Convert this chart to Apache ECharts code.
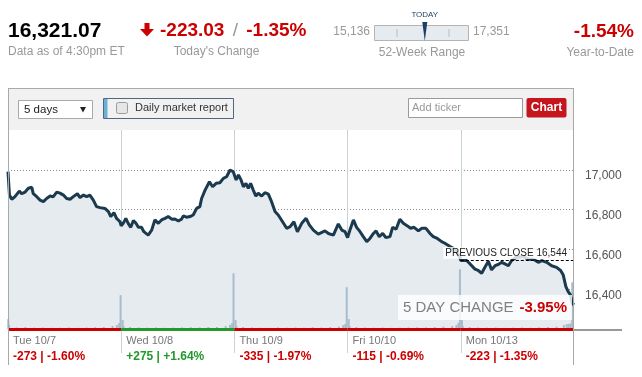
<!DOCTYPE html>
<html>
<head>
<meta charset="utf-8">
<script src="https://cdn.jsdelivr.net/npm/echarts@6/dist/echarts.min.js"></script>
<style>
html, body { margin: 0; padding: 0; background: #fff; }
#chart { width: 642px; height: 377px; }
</style>
</head>
<body>
<div id="chart"></div>
<script>
// trading minutes from Tue open (390 per session)
var minutes = [
    0, 5, 13, 24, 39, 47, 59, 70, 82, 87, 99, 110, 122, 133, 145, 156, 168, 179, 191, 202, 214, 225, 239, 248, 260, 271, 282, 294, 305, 317, 334, 346, 354, 365, 374, 386, 390,
    397, 406, 414, 423, 432, 441, 449, 460, 468, 483, 495, 506, 518, 529, 541, 552, 564, 575, 587, 598, 604, 615, 627, 638, 650, 661, 667, 679, 694, 705, 717, 730, 742, 753, 765, 776, 780,
    786, 794, 802, 811, 820, 828, 836, 845, 854, 862, 874, 885, 897, 908, 920, 931, 946, 960, 972, 985, 997, 1012, 1027, 1038, 1052, 1069, 1075, 1092, 1104, 1121, 1138, 1150, 1161, 1170,
    1178, 1190, 1201, 1213, 1224, 1236, 1247, 1259, 1268, 1279, 1291, 1302, 1316, 1325, 1337, 1350, 1362, 1376, 1387, 1399, 1414, 1425, 1440, 1454, 1465, 1479, 1494, 1505, 1523, 1534, 1546, 1555, 1560,
    1563, 1580, 1592, 1609, 1620, 1632, 1643, 1655, 1666, 1678, 1689, 1701, 1712, 1724, 1735, 1752, 1775, 1793, 1810, 1827, 1839, 1856, 1873, 1890, 1904, 1913, 1922, 1930, 1938, 1944, 1950
];
var prices = [
    16991, 16873, 16852, 16865, 16893, 16880, 16888, 16907, 16912, 16880, 16865, 16848, 16840, 16856, 16868, 16865, 16888, 16883, 16873, 16856, 16852, 16865, 16880, 16860, 16873, 16865, 16873, 16848, 16815, 16810, 16806, 16790, 16765, 16785, 16756, 16739, 16719,
    16731, 16756, 16731, 16711, 16745, 16731, 16711, 16711, 16689, 16672, 16697, 16748, 16731, 16748, 16756, 16765, 16752, 16753, 16743, 16752, 16768, 16762, 16765, 16773, 16806, 16815, 16856, 16898, 16940, 16915, 16932, 16935, 16957, 16965, 16999, 16990, 16994,
    16949, 16974, 16952, 16915, 16932, 16907, 16932, 16898, 16868, 16882, 16868, 16885, 16878, 16840, 16790, 16773, 16739, 16706, 16714, 16739, 16689, 16731, 16756, 16723, 16697, 16677, 16680, 16693, 16680, 16672, 16728, 16697, 16689, 16659,
    16697, 16748, 16711, 16689, 16664, 16639, 16655, 16680, 16693, 16664, 16680, 16659, 16664, 16711, 16701, 16751, 16731, 16718, 16706, 16711, 16693, 16706, 16706, 16680, 16664, 16655, 16639, 16631, 16614, 16605, 16590, 16565, 16544,
    16551, 16544, 16527, 16501, 16494, 16480, 16510, 16540, 16497, 16518, 16524, 16535, 16527, 16518, 16544, 16560, 16564, 16551, 16551, 16535, 16544, 16535, 16518, 16510, 16494, 16471, 16413, 16388, 16371, 16329, 16321
];
var volMinutes = [
    1, 4, 30, 60, 90, 120, 150, 180, 210, 240, 270, 300, 330, 360, 375, 383, 388,
    395, 398, 420, 450, 480, 510, 540, 570, 600, 630, 660, 690, 720, 750, 765, 772, 777,
    784, 787, 810, 840, 870, 900, 930, 960, 990, 1020, 1050, 1080, 1110, 1140, 1155, 1162, 1167,
    1174, 1177, 1200, 1230, 1260, 1290, 1320, 1350, 1380, 1410, 1440, 1470, 1500, 1530, 1545, 1552, 1557,
    1564, 1567, 1590, 1620, 1650, 1680, 1710, 1740, 1770, 1800, 1830, 1860, 1890, 1915, 1925, 1932, 1938, 1944
];
var volumes = [
    5, 2, 0.8, 1, 0.7, 0.8, 0.6, 0.7, 0.8, 0.6, 0.8, 0.9, 1, 1.5, 2, 3, 17,
    4.5, 1.5, 1, 0.8, 0.7, 0.8, 0.6, 0.7, 0.8, 0.9, 0.8, 1, 1, 1.5, 2, 3, 28,
    4.5, 1.5, 1, 0.8, 0.7, 0.6, 0.8, 0.7, 0.8, 0.7, 0.9, 0.8, 1, 1.2, 2, 2.5, 21,
    5, 1.5, 1, 0.8, 0.7, 0.8, 0.6, 0.7, 0.8, 0.9, 0.8, 1, 1.2, 1.5, 2, 3, 30,
    4.5, 1.5, 1, 0.8, 0.7, 0.8, 0.6, 0.7, 0.8, 0.7, 0.9, 1, 1.2, 2, 2.5, 2.5, 2.8, 23.5
];
var dayNames = ['Tue 10/7', 'Wed 10/8', 'Thu 10/9', 'Fri 10/10', 'Mon 10/13'];
var dayChange = [-273, 275, -335, -115, -223];
var dayPct = [-1.60, 1.64, -1.97, -0.69, -1.35];
var yTicks = [16400, 16600, 16800, 17000];
var prevClose = 16544;
var lastPrice = 16321.07, todayChange = -223.03, todayPct = -1.35;
var low52 = 15136, high52 = 17351, ytdPct = -1.54, fiveDayPct = -3.95;

var RED = '#cc0000', GREEN = '#22992a', FONT = '"Liberation Sans", Arial, sans-serif';
var DAY = 390;

function signed(v, d) {
    return (v >= 0 ? '+' : '') + v.toFixed(d);
}
function num(v) {
    return v.toLocaleString('en-US');
}

var pricePairs = minutes.map(function (m, i) { return [m, prices[i]]; });
var volPairs = volMinutes.map(function (m, i) { return [m, volumes[i]]; });
var dayStarts = dayNames.map(function (d, i) { return i * DAY; });

var dayLines = dayChange.map(function (c, i) {
    return [
        { coord: [i * DAY, 16200], lineStyle: { color: c >= 0 ? GREEN : RED, width: 3, type: 'solid' } },
        { coord: [(i + 1) * DAY, 16200] }
    ];
});
dayLines.push([
    { coord: [4 * DAY, prevClose], lineStyle: { color: '#000', width: 1, type: [3, 2] } },
    { coord: [5 * DAY, prevClose] }
]);

var myChart = echarts.init(document.getElementById('chart'));
var option = {
    animation: false,
    textStyle: { fontFamily: FONT },
    grid: { left: 8, top: 130, width: 566, height: 199 },
    xAxis: {
        type: 'value',
        min: 0,
        max: 5 * DAY,
        interval: DAY,
        axisLine: { show: false },
        axisTick: { show: true, length: 24, customValues: dayStarts.slice(1), lineStyle: { color: '#c9d1d9' } },
        splitLine: { show: true, lineStyle: { color: '#c9d1d9' } },
        axisLabel: {
            customValues: dayStarts,
            align: 'left',
            margin: 4,
            padding: [0, 0, 0, 5],
            formatter: function (v) {
                var i = Math.round(v / DAY);
                if (i >= dayNames.length) return '';
                var c = dayChange[i] >= 0 ? 'g' : 'r';
                return '{d|' + dayNames[i] + '}\n{' + c + '|' + signed(dayChange[i], 0) + ' | ' + signed(dayPct[i], 2) + '%}';
            },
            rich: {
                d: { fontSize: 11, color: '#777', lineHeight: 16, fontFamily: FONT },
                r: { fontSize: 12, fontWeight: 'bold', color: RED, lineHeight: 16, fontFamily: FONT },
                g: { fontSize: 12, fontWeight: 'bold', color: GREEN, lineHeight: 16, fontFamily: FONT }
            }
        }
    },
    yAxis: [{
        type: 'value',
        position: 'right',
        min: 16200,
        max: 17200,
        interval: 200,
        axisLine: { show: false },
        axisTick: { show: false },
        splitLine: { show: true, showMinLine: false, showMaxLine: false, lineStyle: { color: '#8c8c8c', type: [1, 2] } },
        axisLabel: {
            margin: 11,
            verticalAlign: 'top',
            color: '#555',
            fontSize: 12,
            formatter: function (v) { return yTicks.indexOf(v) >= 0 ? num(v) : ''; }
        }
    }, {
        type: 'value',
        min: 0,
        max: 100,
        show: false
    }],
    series: [{
        type: 'line',
        data: pricePairs,
        symbol: 'none',
        silent: true,
        z: 1,
        lineStyle: { width: 0 },
        areaStyle: { color: '#e6ebf0', opacity: 1, origin: 'start' }
    }, {
        type: 'bar',
        yAxisIndex: 1,
        data: volPairs,
        barWidth: 2,
        z: 3,
        silent: true,
        itemStyle: { color: '#a9bccb' }
    }, {
        type: 'line',
        data: pricePairs,
        symbol: 'none',
        clip: false,
        z: 4,
        lineStyle: { color: '#1b3a4e', width: 3 },
        markLine: {
            silent: true,
            symbol: ['none', 'none'],
            label: { show: false },
            data: dayLines
        }
    }]
};
myChart.setOption(option);

function txt(x, y, s, size, color, weight, align) {
    return {
        type: 'text', x: x, y: y, z: 101,
        style: {
            text: s, fontSize: size, fontWeight: weight || 'normal', fontFamily: FONT,
            fill: color, textAlign: align || 'left', textVerticalAlign: 'middle'
        }
    };
}
function rect(x, y, w, h, fill, stroke, r) {
    return {
        type: 'rect', z: 100,
        shape: { x: x, y: y, width: w, height: h, r: r || 0 },
        style: { fill: fill, stroke: stroke || null, lineWidth: 1 }
    };
}
function line(x1, y1, x2, y2, color, w) {
    return {
        type: 'line', z: 100,
        shape: { x1: x1, y1: y1, x2: x2, y2: y2 },
        style: { stroke: color, lineWidth: w || 1 }
    };
}

var pc = myChart.convertToPixel({ gridIndex: 0 }, [5 * DAY, prevClose]);
var needleX = 374.5 + (lastPrice - low52) / (high52 - low52) * 94;

var graphics = [
    // header
    txt(8, 31, lastPrice.toLocaleString('en-US', { minimumFractionDigits: 2 }), 21, '#000', 'bold'),
    txt(8, 52, 'Data as of 4:30pm ET', 12, '#999'),
    {
        type: 'polygon', z: 100,
        shape: { points: [[144.5, 23], [149.5, 23], [149.5, 29], [154, 29], [147, 36.5], [140, 29], [144.5, 29]] },
        style: { fill: RED }
    },
    {
        type: 'text', x: 160, y: 31, z: 101,
        style: {
            text: '{r|' + todayChange.toFixed(2) + '}{s| / }{r|' + todayPct.toFixed(2) + '%}',
            textVerticalAlign: 'middle',
            rich: {
                r: { fontSize: 19, fontWeight: 'bold', fill: RED, fontFamily: FONT },
                s: { fontSize: 19, fill: '#999', fontFamily: FONT, padding: [0, 3] }
            }
        }
    },
    txt(216.5, 52, "Today's Change", 12, '#999', null, 'center'),
    txt(needleX, 15, 'TODAY', 8, '#1d3d5a', null, 'center'),
    txt(370, 32, num(low52), 12, '#999', null, 'right'),
    rect(374.5, 25.5, 94, 15, '#e6ebf0', '#b4b4b4'),
    line(397, 29, 397, 37, '#bdbdbd'),
    line(449, 29, 449, 37, '#bdbdbd'),
    {
        type: 'polygon', z: 100,
        shape: { points: [[needleX - 2.5, 22], [needleX + 2.5, 22], [needleX, 41]] },
        style: { fill: '#1d3f63' }
    },
    txt(473, 32, num(high52), 12, '#999'),
    txt(422, 53, '52-Week Range', 12, '#999', null, 'center'),
    txt(634, 31.5, ytdPct.toFixed(2) + '%', 19, RED, 'bold', 'right'),
    txt(634, 53, 'Year-to-Date', 12, '#999', null, 'right'),

    // toolbar
    rect(8, 88, 566, 42, '#f1f1f1'),
    line(8, 88.5, 574, 88.5, '#a9a9a9'),
    line(8.5, 88, 8.5, 365, '#a9a9a9'),
    line(573.5, 88, 573.5, 365, '#a9a9a9'),
    rect(18.5, 100.5, 74, 18, '#fff', '#a9a9a9'),
    txt(24, 110, '5 days', 11.5, '#222'),
    {
        type: 'polygon', z: 100,
        shape: { points: [[80, 107], [86, 107], [83, 112.5]] },
        style: { fill: '#222' }
    },
    rect(103.5, 98.5, 130, 20, '#f1f1f1', '#50687f'),
    rect(104, 99, 3.5, 19, '#6cb0d6'),
    rect(116.5, 102.5, 11, 11, '#e6e6e6', '#9a9a9a', 2),
    txt(135, 107.5, 'Daily market report', 11, '#333'),
    rect(408.5, 98.5, 114, 19, '#fff', '#9a9a9a'),
    txt(412, 107.5, 'Add ticker', 11, '#999'),
    rect(526.5, 98, 40, 19.5, '#c4161c', null, 2),
    txt(546.5, 107.5, 'Chart', 12, '#fff', 'bold', 'center'),

    // chart overlays
    line(574, 330, 622, 330, '#999', 2),
    {
        type: 'text', x: pc[0] - 6, y: pc[1] - 1.5, z: 101,
        style: {
            text: 'PREVIOUS CLOSE ' + num(prevClose), fontSize: 10, fontFamily: FONT, fill: '#222',
            textAlign: 'right', textVerticalAlign: 'bottom',
            backgroundColor: 'rgba(255,255,255,0.8)', padding: [1, 1, 1, 2]
        }
    },
    rect(398, 295, 174, 25, 'rgba(255,255,255,0.8)'),
    txt(403, 307.5, '5 DAY CHANGE', 15, '#808080'),
    txt(567, 307.5, fiveDayPct.toFixed(2) + '%', 15, RED, 'bold', 'right')
];
myChart.setOption({ graphic: graphics });
</script>
</body>
</html>
